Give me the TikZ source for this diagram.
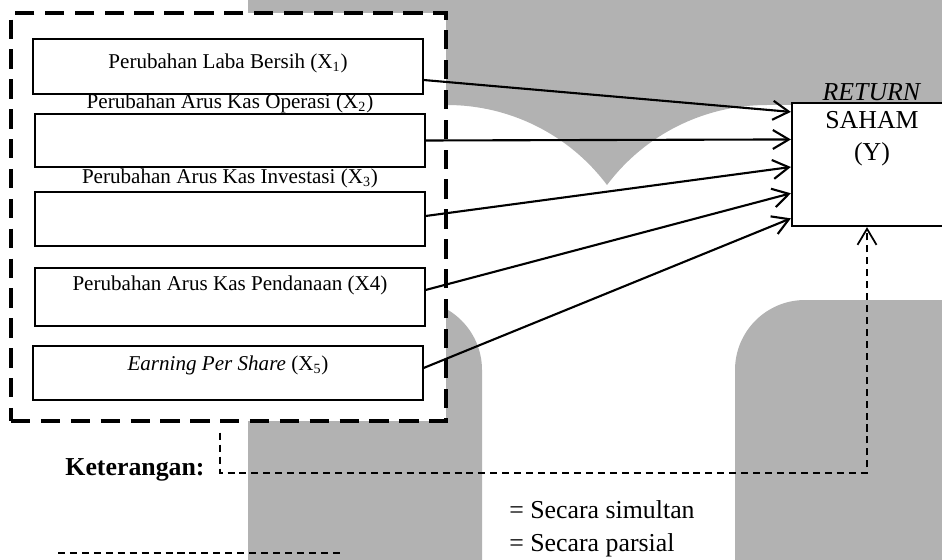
\documentclass[tikz,border=0pt]{standalone}
\usepackage{fontspec}
\setmainfont{Liberation Serif}
\usetikzlibrary{arrows.meta,calc}

\begin{document}
\begin{tikzpicture}[x=0.02cm,y=-0.02cm,
	varbox/.style={draw,line width=0.7pt,fill=white,minimum width=7.8cm,inner sep=0pt},
	vartext/.style={inner sep=0pt,font=\fontsize{12}{14}\selectfont},
	bigtext/.style={inner sep=0pt,font=\fontsize{14.7}{18}\selectfont},
	parsial/.style={line width=1pt,dash pattern=on 4pt off 2.8pt},
	simultan/.style={line width=1.2pt,->},
	>={Straight Barb[length=3.2mm,width=3.8mm]}]
			%%%%% START %%%%%
			\useasboundingbox (0,0) rectangle (942,560);
			
			% grey watermark
			\fill[black!30] (248,0) -- (942,0) -- (942,105) -- (767,105) arc (-90:-143.13:200) arc (-36.87:-90:200) -- (248,105) -- cycle;
			\fill[black!30] (248,570) -- (248,300) -- (412,300) arc (-90:0:70) -- (482,570) -- cycle;
			\fill[black!30] (735,570) -- (735,370) arc (180:270:70) -- (950,300) -- (950,570) -- cycle;
			
			\node[draw,line width=2pt,dash pattern=on 11pt off 6pt,fill=white,minimum width=8.7cm,minimum height=8.16cm,inner sep=0pt] (frame) at (228.5,217) {};
			
			\node[varbox,minimum height=1.1cm] (x1) at (228,66.5) {};
			\node[vartext] (t1) at (228,63) {Perubahan Laba Bersih (X\textsubscript{1})};
			\node[varbox,minimum height=1.06cm] (x2) at (230,140.5) {};
			\node[vartext] (t2) at (230,103) {Perubahan Arus Kas Operasi (X\textsubscript{2})};
			\node[varbox,minimum height=1.08cm] (x3) at (230,219) {};
			\node[vartext] (t3) at (230,178) {Perubahan Arus Kas Investasi (X\textsubscript{3})};
			\node[varbox,minimum height=1.16cm] (x4) at (230,297) {};
			\node[vartext] (t4) at (230,285) {Perubahan Arus Kas Pendanaan (X4)};
			\node[varbox,minimum height=1.08cm] (x5) at (228,373) {};
			\node[vartext] (t5) at (228,365) {\textit{Earning Per Share} (X\textsubscript{5})};
			
			\node[draw,line width=1.3pt,fill=white,minimum width=3.2cm,minimum height=2.46cm,inner sep=0pt] (saham) at (872,164.5) {};
			\node[bigtext] (ret) at (872,92) {\textit{RETURN}};
			\node[bigtext,align=center] (sy) at (872,139) {SAHAM\\(Y)};
			
			\foreach \i/\s/\f in {1/-0.27/0.08, 2/0/0.3, 3/0.06/0.52, 4/0.14/0.73, 5/0.1/0.93}
				\draw[simultan] ([yshift=\s cm]x\i.east) -- ($(saham.north west)!\f!(saham.south west)$);
			
			\coordinate (turn) at (867,473);
			\draw[parsial,->] ([xshift=-0.17cm,yshift=-0.2cm]frame.south) |- (turn) -- (turn |- saham.south);
			
			\node[bigtext] (ket) at (135,470) {\textbf{Keterangan:}};
			\node[bigtext,anchor=west] (l1) at (509,510) {= Secara simultan};
			\node[bigtext,anchor=west] (l2) at (509,545) {= Secara parsial};
			\coordinate (ka) at (58,553);
			\coordinate (kb) at (342,553);
			\draw[parsial] (ka) -- (kb);
			
			%%%%% END %%%%%
\end{tikzpicture}
\end{document}
